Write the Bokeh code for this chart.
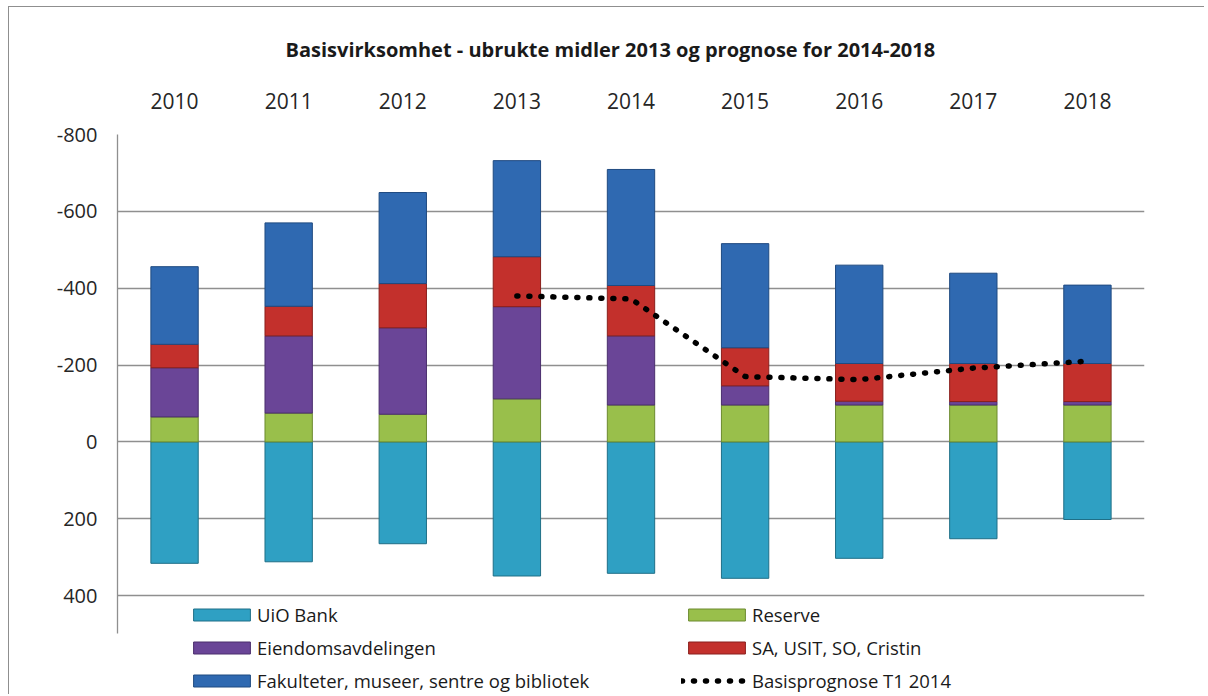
from bokeh.plotting import figure
from bokeh.models import (FactorRange, Range1d, FixedTicker, Legend, LegendItem,
                          ColumnDataSource, PrintfTickFormatter)
from bokeh.embed import file_html
from bokeh.resources import INLINE

# ---- data ----
years = ["2010", "2011", "2012", "2013", "2014", "2015", "2016", "2017", "2018"]
uio_bank = [316, 312, 265, 349, 342, 355, 303, 252, 202]
reserve = [-65, -75, -72, -112, -96, -96, -96, -96, -96]
eiendom = [-128, -201, -225, -240, -180, -50, -10, -9, -9]
sa_usit = [-61, -77, -115, -130, -131, -99, -98, -99, -99]
fakultet = [-202, -217, -237, -250, -302, -271, -256, -235, -204]
prog_years = ["2013", "2014", "2015", "2016", "2017", "2018"]
prognose = [-380, -372, -170, -162, -192, -210]

y_ticks = [-800, -600, -400, -200, 0, 200, 400]

names = ["UiO Bank", "Reserve", "Eiendomsavdelingen", "SA, USIT, SO, Cristin",
         "Fakulteter, museer, sentre og bibliotek", "Basisprognose T1 2014"]
fills = ["#2fa0c3", "#99bf4b", "#6a4597", "#c3302c", "#2f69b1"]
edges = ["#1f6f87", "#6c8a2f", "#4a2e6d", "#8a1f1c", "#1f4a80"]

FONT = "Open Sans"
GRID = "#8f8f8f"

src = ColumnDataSource(dict(year=years, bank=uio_bank, reserve=reserve,
                            eiendom=eiendom, sa=sa_usit, fak=fakultet))

p = figure(width=1196, height=688, x_range=FactorRange(*years),
           y_range=Range1d(start=660, end=-800),
           x_axis_location="above", output_backend="svg", toolbar_location=None,
           title="Basisvirksomhet - ubrukte midler 2013 og prognose for 2014-2018")
p.styles = {"margin-left": "8px", "margin-top": "6px",
            "border-top": "1px solid #8f8f8f", "border-left": "1px solid #8f8f8f"}
p.min_border_left = 108
p.min_border_right = 61
p.min_border_top = 127
p.min_border_bottom = 0
p.outline_line_color = None
p.background_fill_color = "white"
p.border_fill_color = "white"

# title
p.title.align = "left"
p.title.offset = 168
p.title.text_font = FONT
p.title.text_font_size = "20px"
p.title.text_font_style = "bold"
p.title.text_color = "#1a1a1a"
p.title.standoff = 53

# x axis (above)
xa = p.xaxis[0]
xa.axis_line_color = None
xa.major_tick_line_color = None
xa.major_tick_out = 0
xa.major_tick_in = 0
xa.major_label_standoff = 26
xa.major_label_text_font = FONT
xa.major_label_text_font_size = "21px"
xa.major_label_text_color = "#262626"
p.xgrid.grid_line_color = None

# y axis
ya = p.yaxis[0]
ya.ticker = FixedTicker(ticks=y_ticks)
ya.formatter = PrintfTickFormatter(format="%d")
ya.bounds = (-800, 499)
ya.axis_line_color = GRID
ya.axis_line_width = 1.3
ya.major_tick_line_color = None
ya.minor_tick_line_color = None
ya.major_tick_out = 0
ya.major_label_standoff = 20
ya.major_label_text_font = FONT
ya.major_label_text_font_size = "20px"
ya.major_label_text_color = "#262626"
p.ygrid.ticker = FixedTicker(ticks=y_ticks)
p.ygrid.grid_line_color = GRID
p.ygrid.grid_line_width = 1.3

BW = 0.415
r_bank = p.vbar(x="year", top="bank", bottom=0, width=BW, source=src,
                fill_color=fills[0], line_color=edges[0], line_width=1)
r_stack = p.vbar_stack(["reserve", "eiendom", "sa", "fak"], x="year", width=BW,
                       source=src, fill_color=fills[1:], line_color=edges[1:],
                       line_width=1)
r_line = p.line(prog_years, prognose, line_color="black", line_width=5.5,
                line_dash="1 11", line_cap="round")

items1 = [LegendItem(label=names[0], renderers=[r_bank]),
          LegendItem(label=names[2], renderers=[r_stack[1]]),
          LegendItem(label=names[4], renderers=[r_stack[3]])]
items2 = [LegendItem(label=names[1], renderers=[r_stack[0]]),
          LegendItem(label=names[3], renderers=[r_stack[2]]),
          LegendItem(label=names[5], renderers=[r_line])]


def make_legend(items, loc):
    lg = Legend(items=items, location=loc, orientation="vertical")
    lg.border_line_color = None
    lg.background_fill_alpha = 0
    lg.padding = 0
    lg.margin = 0
    lg.spacing = 8
    lg.glyph_width = 71
    lg.glyph_height = 15
    lg.label_height = 22
    lg.label_standoff = 0
    lg.label_text_font = FONT
    lg.label_text_font_size = "18.5px"
    lg.label_text_color = "#1a1a1a"
    return lg


p.add_layout(make_legend(items1, (69, 2)))
p.add_layout(make_legend(items2, (564, 2)))

open("out.html", "w").write(file_html(p, INLINE))
